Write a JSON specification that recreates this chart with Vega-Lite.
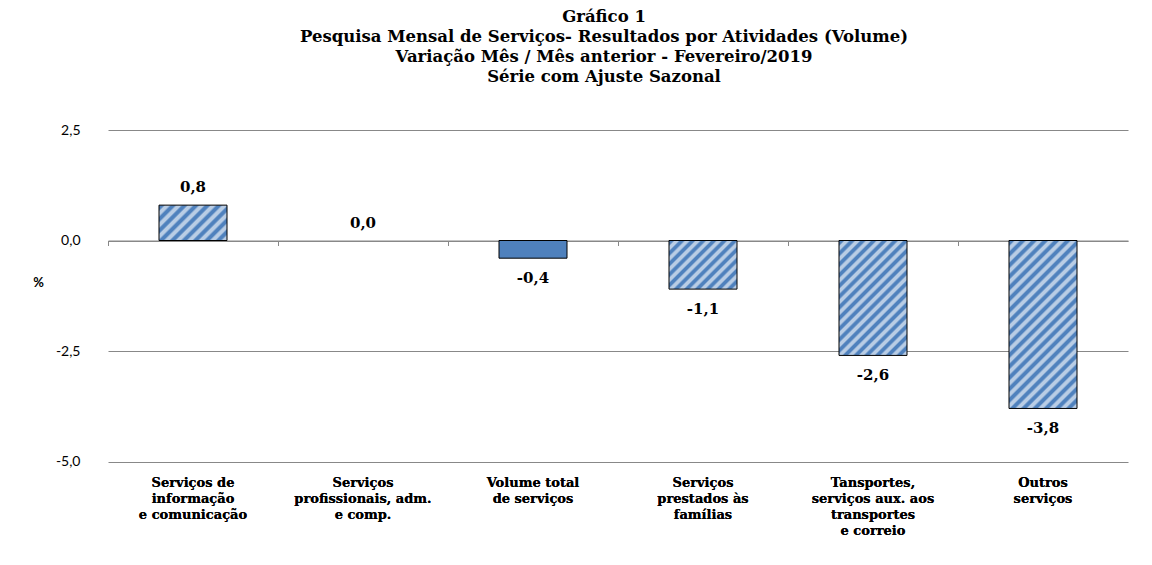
{
  "$schema": "https://vega.github.io/schema/vega-lite/v6.json",
  "width": 1020,
  "height": 331.5,
  "autosize": {"type": "none"},
  "padding": {"left": 108, "top": 130, "right": 24, "bottom": 103.5},
  "background": "white",
  "config": {
    "locale": {"number": {"decimal": ",", "thousands": ".", "grouping": [3], "currency": ["R$", ""], "minus": "-"}},
    "view": {"stroke": null}
  },
  "title": {
    "text": ["Gráfico 1", "Pesquisa Mensal de Serviços- Resultados por Atividades (Volume)", "Variação Mês / Mês anterior - Fevereiro/2019", "Série com Ajuste Sazonal"],
    "font": "DejaVu Serif",
    "fontWeight": "bold",
    "fontSize": 16.5,
    "lineHeight": 20.3,
    "color": "#000000",
    "anchor": "middle",
    "frame": "group",
    "dx": -14,
    "offset": 37
  },
  "data": {
    "values": [
      {"cat": "Serviços de\ninformação\ne comunicação", "v": 0.8},
      {"cat": "Serviços\nprofissionais, adm.\ne comp.", "v": 0.0},
      {"cat": "Volume total\nde serviços", "v": -0.4},
      {"cat": "Serviços\nprestados às\nfamílias", "v": -1.1},
      {"cat": "Tansportes,\nserviços aux. aos\ntransportes\ne correio", "v": -2.6},
      {"cat": "Outros\nserviços", "v": -3.8}
    ]
  },
  "encoding": {
    "x": {
      "field": "cat",
      "type": "nominal",
      "sort": null,
      "scale": {"paddingInner": 0.6, "paddingOuter": 0.3},
      "axis": {
        "orient": "bottom",
        "title": null,
        "domain": false,
        "ticks": false,
        "labelAngle": 0,
        "labelExpr": "split(datum.label, '\\n')",
        "labelFont": "DejaVu Serif",
        "labelFontWeight": "bold",
        "labelFontSize": 13,
        "labelLineHeight": 16,
        "labelColor": "#000000",
        "labelBaseline": "top",
        "labelPadding": 15,
        "labelLimit": 0
      }
    },
    "y": {
      "field": "v",
      "type": "quantitative",
      "scale": {"domain": [-5, 2.5], "nice": false, "zero": false},
      "axis": {
        "values": [-5, -2.5, 0, 2.5],
        "format": ".1f",
        "domain": false,
        "ticks": false,
        "grid": true,
        "gridColor": "#888888",
        "gridWidth": 1,
        "labelFont": "Lato",
        "labelFontSize": 14,
        "labelColor": "#000000",
        "labelPadding": 28,
        "title": "%",
        "titleAngle": 0,
        "titleFont": "Lato",
        "titleFontSize": 13,
        "titleFontWeight": "bold",
        "titleColor": "#000000",
        "titleX": -70,
        "titleY": 152,
        "titleAlign": "center",
        "titleBaseline": "middle"
      }
    }
  },
  "layer": [
    {
      "mark": {"type": "bar", "stroke": "#000000", "strokeWidth": 1},
      "encoding": {
        "x": {
          "field": "cat",
          "type": "nominal",
          "sort": null,
          "axis": {
            "orient": "top",
            "offset": -110.5,
            "title": null,
            "labels": false,
            "domain": true,
            "domainColor": "#888888",
            "domainWidth": 1,
            "ticks": true,
            "tickColor": "#888888",
            "tickWidth": 1,
            "tickSize": -5,
            "bandPosition": 0,
            "tickOffset": -51,
            "grid": false,
            "zindex": 0
          }
        },
        "strokeOpacity": {"condition": {"test": "datum.v == 0", "value": 0}, "value": 1},
        "fill": {
          "condition": [
            {"test": "datum.v == 0.8", "value": {"gradient": "linear", "x1": 0, "y1": 0, "x2": 1.1966, "y2": 0.622, "stops": [
              {"offset": 0.0111, "color": "#4f81bd"}, {"offset": 0.0444, "color": "#4f81bd"}, {"offset": 0.0667, "color": "#b9cde5"}, {"offset": 0.1, "color": "#b9cde5"},
              {"offset": 0.1222, "color": "#4f81bd"}, {"offset": 0.1556, "color": "#4f81bd"}, {"offset": 0.1778, "color": "#b9cde5"}, {"offset": 0.2111, "color": "#b9cde5"},
              {"offset": 0.2333, "color": "#4f81bd"}, {"offset": 0.2667, "color": "#4f81bd"}, {"offset": 0.2889, "color": "#b9cde5"}, {"offset": 0.3222, "color": "#b9cde5"},
              {"offset": 0.3444, "color": "#4f81bd"}, {"offset": 0.3778, "color": "#4f81bd"}, {"offset": 0.4, "color": "#b9cde5"}, {"offset": 0.4333, "color": "#b9cde5"},
              {"offset": 0.4556, "color": "#4f81bd"}, {"offset": 0.4889, "color": "#4f81bd"}, {"offset": 0.5111, "color": "#b9cde5"}, {"offset": 0.5444, "color": "#b9cde5"},
              {"offset": 0.5667, "color": "#4f81bd"}, {"offset": 0.6, "color": "#4f81bd"}, {"offset": 0.6222, "color": "#b9cde5"}, {"offset": 0.6556, "color": "#b9cde5"},
              {"offset": 0.6778, "color": "#4f81bd"}, {"offset": 0.7111, "color": "#4f81bd"}, {"offset": 0.7333, "color": "#b9cde5"}, {"offset": 0.7667, "color": "#b9cde5"},
              {"offset": 0.7889, "color": "#4f81bd"}, {"offset": 0.8222, "color": "#4f81bd"}, {"offset": 0.8444, "color": "#b9cde5"}, {"offset": 0.8778, "color": "#b9cde5"},
              {"offset": 0.9, "color": "#4f81bd"}, {"offset": 0.9333, "color": "#4f81bd"}, {"offset": 0.9556, "color": "#b9cde5"}, {"offset": 0.9889, "color": "#b9cde5"}
            ]}},
            {"test": "datum.v == -1.1", "value": {"gradient": "linear", "x1": 0, "y1": 0, "x2": 1.1348, "y2": 0.8115, "stops": [
              {"offset": 0.0091, "color": "#4f81bd"}, {"offset": 0.0364, "color": "#4f81bd"}, {"offset": 0.0545, "color": "#b9cde5"}, {"offset": 0.0818, "color": "#b9cde5"},
              {"offset": 0.1, "color": "#4f81bd"}, {"offset": 0.1273, "color": "#4f81bd"}, {"offset": 0.1455, "color": "#b9cde5"}, {"offset": 0.1727, "color": "#b9cde5"},
              {"offset": 0.1909, "color": "#4f81bd"}, {"offset": 0.2182, "color": "#4f81bd"}, {"offset": 0.2364, "color": "#b9cde5"}, {"offset": 0.2636, "color": "#b9cde5"},
              {"offset": 0.2818, "color": "#4f81bd"}, {"offset": 0.3091, "color": "#4f81bd"}, {"offset": 0.3273, "color": "#b9cde5"}, {"offset": 0.3545, "color": "#b9cde5"},
              {"offset": 0.3727, "color": "#4f81bd"}, {"offset": 0.4, "color": "#4f81bd"}, {"offset": 0.4182, "color": "#b9cde5"}, {"offset": 0.4455, "color": "#b9cde5"},
              {"offset": 0.4636, "color": "#4f81bd"}, {"offset": 0.4909, "color": "#4f81bd"}, {"offset": 0.5091, "color": "#b9cde5"}, {"offset": 0.5364, "color": "#b9cde5"},
              {"offset": 0.5545, "color": "#4f81bd"}, {"offset": 0.5818, "color": "#4f81bd"}, {"offset": 0.6, "color": "#b9cde5"}, {"offset": 0.6273, "color": "#b9cde5"},
              {"offset": 0.6455, "color": "#4f81bd"}, {"offset": 0.6727, "color": "#4f81bd"}, {"offset": 0.6909, "color": "#b9cde5"}, {"offset": 0.7182, "color": "#b9cde5"},
              {"offset": 0.7364, "color": "#4f81bd"}, {"offset": 0.7636, "color": "#4f81bd"}, {"offset": 0.7818, "color": "#b9cde5"}, {"offset": 0.8091, "color": "#b9cde5"},
              {"offset": 0.8273, "color": "#4f81bd"}, {"offset": 0.8545, "color": "#4f81bd"}, {"offset": 0.8727, "color": "#b9cde5"}, {"offset": 0.9, "color": "#b9cde5"},
              {"offset": 0.9182, "color": "#4f81bd"}, {"offset": 0.9455, "color": "#4f81bd"}, {"offset": 0.9636, "color": "#b9cde5"}, {"offset": 0.9909, "color": "#b9cde5"}
            ]}},
            {"test": "datum.v == -2.6", "value": {"gradient": "linear", "x1": 0, "y1": 0, "x2": 0.6975, "y2": 1.179, "stops": [
              {"offset": 0.0059, "color": "#4f81bd"}, {"offset": 0.0235, "color": "#4f81bd"}, {"offset": 0.0353, "color": "#b9cde5"}, {"offset": 0.0529, "color": "#b9cde5"},
              {"offset": 0.0647, "color": "#4f81bd"}, {"offset": 0.0824, "color": "#4f81bd"}, {"offset": 0.0941, "color": "#b9cde5"}, {"offset": 0.1118, "color": "#b9cde5"},
              {"offset": 0.1235, "color": "#4f81bd"}, {"offset": 0.1412, "color": "#4f81bd"}, {"offset": 0.1529, "color": "#b9cde5"}, {"offset": 0.1706, "color": "#b9cde5"},
              {"offset": 0.1824, "color": "#4f81bd"}, {"offset": 0.2, "color": "#4f81bd"}, {"offset": 0.2118, "color": "#b9cde5"}, {"offset": 0.2294, "color": "#b9cde5"},
              {"offset": 0.2412, "color": "#4f81bd"}, {"offset": 0.2588, "color": "#4f81bd"}, {"offset": 0.2706, "color": "#b9cde5"}, {"offset": 0.2882, "color": "#b9cde5"},
              {"offset": 0.3, "color": "#4f81bd"}, {"offset": 0.3176, "color": "#4f81bd"}, {"offset": 0.3294, "color": "#b9cde5"}, {"offset": 0.3471, "color": "#b9cde5"},
              {"offset": 0.3588, "color": "#4f81bd"}, {"offset": 0.3765, "color": "#4f81bd"}, {"offset": 0.3882, "color": "#b9cde5"}, {"offset": 0.4059, "color": "#b9cde5"},
              {"offset": 0.4176, "color": "#4f81bd"}, {"offset": 0.4353, "color": "#4f81bd"}, {"offset": 0.4471, "color": "#b9cde5"}, {"offset": 0.4647, "color": "#b9cde5"},
              {"offset": 0.4765, "color": "#4f81bd"}, {"offset": 0.4941, "color": "#4f81bd"}, {"offset": 0.5059, "color": "#b9cde5"}, {"offset": 0.5235, "color": "#b9cde5"},
              {"offset": 0.5353, "color": "#4f81bd"}, {"offset": 0.5529, "color": "#4f81bd"}, {"offset": 0.5647, "color": "#b9cde5"}, {"offset": 0.5824, "color": "#b9cde5"},
              {"offset": 0.5941, "color": "#4f81bd"}, {"offset": 0.6118, "color": "#4f81bd"}, {"offset": 0.6235, "color": "#b9cde5"}, {"offset": 0.6412, "color": "#b9cde5"},
              {"offset": 0.6529, "color": "#4f81bd"}, {"offset": 0.6706, "color": "#4f81bd"}, {"offset": 0.6824, "color": "#b9cde5"}, {"offset": 0.7, "color": "#b9cde5"},
              {"offset": 0.7118, "color": "#4f81bd"}, {"offset": 0.7294, "color": "#4f81bd"}, {"offset": 0.7412, "color": "#b9cde5"}, {"offset": 0.7588, "color": "#b9cde5"},
              {"offset": 0.7706, "color": "#4f81bd"}, {"offset": 0.7882, "color": "#4f81bd"}, {"offset": 0.8, "color": "#b9cde5"}, {"offset": 0.8176, "color": "#b9cde5"},
              {"offset": 0.8294, "color": "#4f81bd"}, {"offset": 0.8471, "color": "#4f81bd"}, {"offset": 0.8588, "color": "#b9cde5"}, {"offset": 0.8765, "color": "#b9cde5"},
              {"offset": 0.8882, "color": "#4f81bd"}, {"offset": 0.9059, "color": "#4f81bd"}, {"offset": 0.9176, "color": "#b9cde5"}, {"offset": 0.9353, "color": "#b9cde5"},
              {"offset": 0.9471, "color": "#4f81bd"}, {"offset": 0.9647, "color": "#4f81bd"}, {"offset": 0.9765, "color": "#b9cde5"}, {"offset": 0.9941, "color": "#b9cde5"}
            ]}},
            {"test": "datum.v == -3.8", "value": {"gradient": "linear", "x1": 0, "y1": 0, "x2": 0.4887, "y2": 1.207, "stops": [
              {"offset": 0.0048, "color": "#4f81bd"}, {"offset": 0.019, "color": "#4f81bd"}, {"offset": 0.0286, "color": "#b9cde5"}, {"offset": 0.0429, "color": "#b9cde5"},
              {"offset": 0.0524, "color": "#4f81bd"}, {"offset": 0.0667, "color": "#4f81bd"}, {"offset": 0.0762, "color": "#b9cde5"}, {"offset": 0.0905, "color": "#b9cde5"},
              {"offset": 0.1, "color": "#4f81bd"}, {"offset": 0.1143, "color": "#4f81bd"}, {"offset": 0.1238, "color": "#b9cde5"}, {"offset": 0.1381, "color": "#b9cde5"},
              {"offset": 0.1476, "color": "#4f81bd"}, {"offset": 0.1619, "color": "#4f81bd"}, {"offset": 0.1714, "color": "#b9cde5"}, {"offset": 0.1857, "color": "#b9cde5"},
              {"offset": 0.1952, "color": "#4f81bd"}, {"offset": 0.2095, "color": "#4f81bd"}, {"offset": 0.219, "color": "#b9cde5"}, {"offset": 0.2333, "color": "#b9cde5"},
              {"offset": 0.2429, "color": "#4f81bd"}, {"offset": 0.2571, "color": "#4f81bd"}, {"offset": 0.2667, "color": "#b9cde5"}, {"offset": 0.281, "color": "#b9cde5"},
              {"offset": 0.2905, "color": "#4f81bd"}, {"offset": 0.3048, "color": "#4f81bd"}, {"offset": 0.3143, "color": "#b9cde5"}, {"offset": 0.3286, "color": "#b9cde5"},
              {"offset": 0.3381, "color": "#4f81bd"}, {"offset": 0.3524, "color": "#4f81bd"}, {"offset": 0.3619, "color": "#b9cde5"}, {"offset": 0.3762, "color": "#b9cde5"},
              {"offset": 0.3857, "color": "#4f81bd"}, {"offset": 0.4, "color": "#4f81bd"}, {"offset": 0.4095, "color": "#b9cde5"}, {"offset": 0.4238, "color": "#b9cde5"},
              {"offset": 0.4333, "color": "#4f81bd"}, {"offset": 0.4476, "color": "#4f81bd"}, {"offset": 0.4571, "color": "#b9cde5"}, {"offset": 0.4714, "color": "#b9cde5"},
              {"offset": 0.481, "color": "#4f81bd"}, {"offset": 0.4952, "color": "#4f81bd"}, {"offset": 0.5048, "color": "#b9cde5"}, {"offset": 0.519, "color": "#b9cde5"},
              {"offset": 0.5286, "color": "#4f81bd"}, {"offset": 0.5429, "color": "#4f81bd"}, {"offset": 0.5524, "color": "#b9cde5"}, {"offset": 0.5667, "color": "#b9cde5"},
              {"offset": 0.5762, "color": "#4f81bd"}, {"offset": 0.5905, "color": "#4f81bd"}, {"offset": 0.6, "color": "#b9cde5"}, {"offset": 0.6143, "color": "#b9cde5"},
              {"offset": 0.6238, "color": "#4f81bd"}, {"offset": 0.6381, "color": "#4f81bd"}, {"offset": 0.6476, "color": "#b9cde5"}, {"offset": 0.6619, "color": "#b9cde5"},
              {"offset": 0.6714, "color": "#4f81bd"}, {"offset": 0.6857, "color": "#4f81bd"}, {"offset": 0.6952, "color": "#b9cde5"}, {"offset": 0.7095, "color": "#b9cde5"},
              {"offset": 0.719, "color": "#4f81bd"}, {"offset": 0.7333, "color": "#4f81bd"}, {"offset": 0.7429, "color": "#b9cde5"}, {"offset": 0.7571, "color": "#b9cde5"},
              {"offset": 0.7667, "color": "#4f81bd"}, {"offset": 0.781, "color": "#4f81bd"}, {"offset": 0.7905, "color": "#b9cde5"}, {"offset": 0.8048, "color": "#b9cde5"},
              {"offset": 0.8143, "color": "#4f81bd"}, {"offset": 0.8286, "color": "#4f81bd"}, {"offset": 0.8381, "color": "#b9cde5"}, {"offset": 0.8524, "color": "#b9cde5"},
              {"offset": 0.8619, "color": "#4f81bd"}, {"offset": 0.8762, "color": "#4f81bd"}, {"offset": 0.8857, "color": "#b9cde5"}, {"offset": 0.9, "color": "#b9cde5"},
              {"offset": 0.9095, "color": "#4f81bd"}, {"offset": 0.9238, "color": "#4f81bd"}, {"offset": 0.9333, "color": "#b9cde5"}, {"offset": 0.9476, "color": "#b9cde5"},
              {"offset": 0.9571, "color": "#4f81bd"}, {"offset": 0.9714, "color": "#4f81bd"}, {"offset": 0.981, "color": "#b9cde5"}, {"offset": 0.9952, "color": "#b9cde5"}
            ]}}
          ],
          "value": "#4f81bd"
        }
      }
    },
    {
      "transform": [{"filter": "datum.v >= 0"}],
      "mark": {"type": "text", "dy": -18, "baseline": "middle", "align": "center", "font": "DejaVu Serif", "fontWeight": "bold", "fontSize": 15, "color": "#000000"},
      "encoding": {
        "text": {"field": "v", "type": "quantitative", "format": ".1f"}
      }
    },
    {
      "transform": [{"filter": "datum.v < 0"}],
      "mark": {"type": "text", "dy": 20, "baseline": "middle", "align": "center", "font": "DejaVu Serif", "fontWeight": "bold", "fontSize": 15, "color": "#000000"},
      "encoding": {
        "text": {"field": "v", "type": "quantitative", "format": ".1f"}
      }
    }
  ]
}
